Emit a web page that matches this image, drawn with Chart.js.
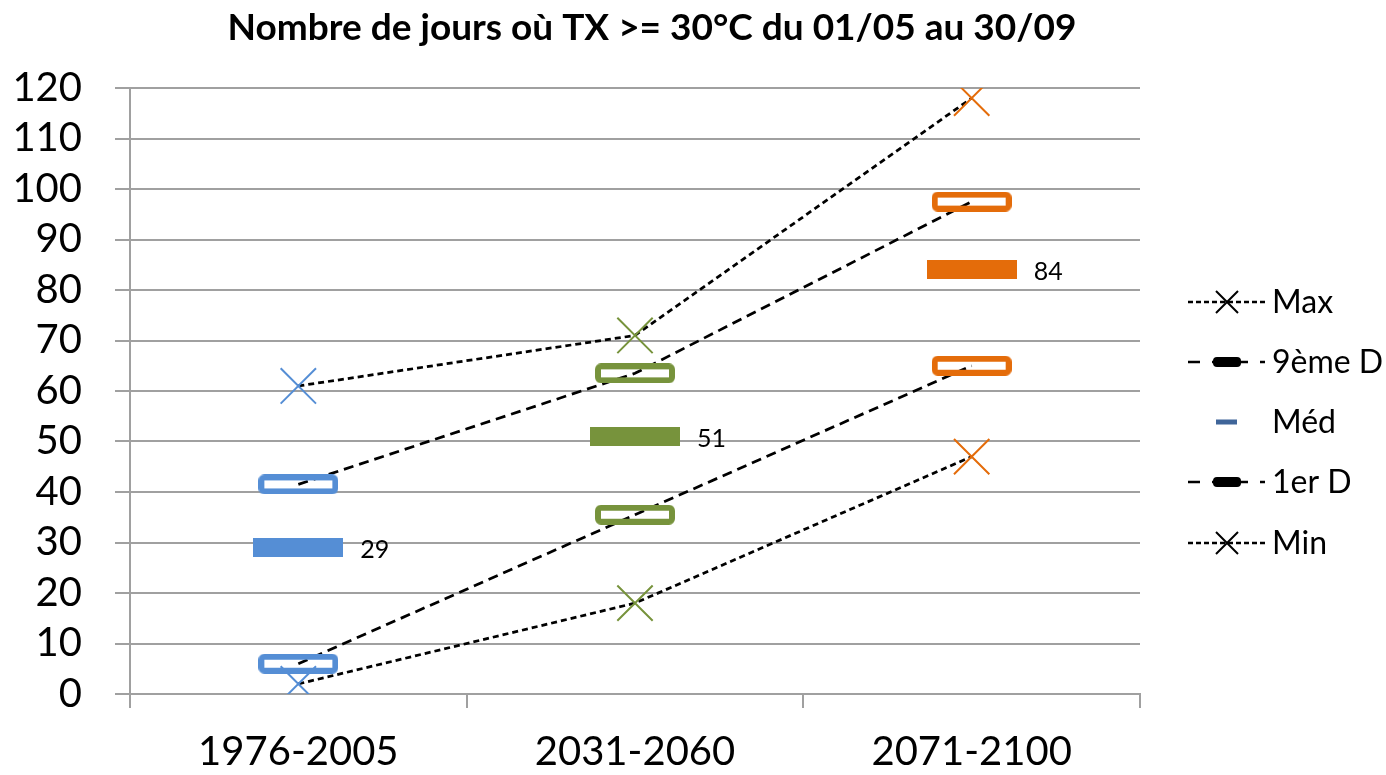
<!DOCTYPE html>
<html lang="fr">
<head>
<meta charset="utf-8">
<script src="https://cdn.jsdelivr.net/npm/chart.js@4.4.1/dist/chart.umd.min.js"></script>
<style>
  html, body { margin: 0; padding: 0; background: #fff; }
  #wrap { width: 1386px; height: 775px; }
</style>
</head>
<body>
<div id="wrap"><canvas id="graphique" width="1386" height="775"></canvas></div>
<script>
const TITRE = "Nombre de jours où TX >= 30°C du 01/05 au 30/09";
const PERIODES = ["1976-2005", "2031-2060", "2071-2100"];
const MAX = [61, 71, 118];
const D9 = [41.5, 63.5, 97.5];
const MED = [29, 51, 84];
const D1 = [6, 35.5, 65];
const MIN = [2, 18, 47];
const Y_MIN = 0;
const Y_MAX = 120;
const Y_PAS = 10;

const COULEURS = ["#558ED5", "#77933C", "#E46C0A"];
const GRIS = "#A0A0A0";
const POLICE = "Lato, 'Open Sans', sans-serif";

// petites images pour les marqueurs (boîtes creuses et barres pleines)
function boite(couleur, plein) {
  const c = document.createElement("canvas");
  const g = c.getContext("2d");
  if (plein) {
    c.width = 90; c.height = 19;
    g.fillStyle = couleur;
    g.fillRect(0, 0, 90, 19);
  } else {
    c.width = 80; c.height = 20;
    g.strokeStyle = couleur;
    g.lineWidth = 6;
    g.beginPath();
    g.roundRect(3, 3, 74, 14, 3);
    g.stroke();
  }
  return c;
}

const boitesCreuses = COULEURS.map(c => boite(c, false));
const barresMed = COULEURS.map(c => boite(c, true));

// titre, étiquettes de la médiane et légende
const decor = {
  id: "decor",
  afterDraw(chart) {
    const ctx = chart.ctx;
    ctx.save();
    ctx.fillStyle = "#000";
    ctx.font = "bold 37px " + POLICE;
    ctx.textAlign = "center";
    ctx.textBaseline = "middle";
    ctx.fillText(TITRE, 652, 28);

    // étiquettes Méd
    const metaMed = chart.getDatasetMeta(2);
    ctx.font = "25px " + POLICE;
    ctx.textAlign = "left";
    metaMed.data.forEach((p, i) => {
      ctx.fillText(String(MED[i]), p.x + 62, p.y + 2);
    });

    // légende
    const x0 = 1188, x1 = 1265, xm = 1227, xt = 1272;
    const lignesY = [302, 362, 422, 482, 543];
    chart.data.datasets.forEach((ds, i) => {
      const y = lignesY[i];
      ctx.strokeStyle = "#000";
      ctx.fillStyle = "#000";
      if (ds.showLine !== false) {
        ctx.lineWidth = 2.5;
        ctx.setLineDash(ds.borderDash[0] === 6 ? [5, 3] : [12, 12]);
        ctx.beginPath();
        ctx.moveTo(x0, y);
        ctx.lineTo(x1, y);
        ctx.stroke();
        ctx.setLineDash([]);
      }
      if (ds.pointStyle === "crossRot") {
        ctx.lineWidth = 2;
        ctx.beginPath();
        ctx.moveTo(xm - 11, y - 11); ctx.lineTo(xm + 11, y + 11);
        ctx.moveTo(xm + 11, y - 11); ctx.lineTo(xm - 11, y + 11);
        ctx.stroke();
      } else if (ds.showLine !== false) {
        ctx.beginPath();
        ctx.roundRect(xm - 14, y - 5, 28, 10, 4);
        ctx.fill();
      } else {
        ctx.fillStyle = "#3F6599";
        ctx.fillRect(1216, y - 2.5, 21, 5);
      }
      ctx.fillStyle = "#000";
      ctx.font = "32px " + POLICE;
      ctx.textAlign = "left";
      ctx.textBaseline = "middle";
      ctx.fillText(ds.label, xt, y + 1);
    });
    ctx.restore();
  }
};

function serieX(label, data) {
  return {
    label, data,
    borderColor: "#000",
    borderWidth: 2.75,
    borderDash: [6, 4],
    pointStyle: "crossRot",
    pointRadius: 25,
    pointBorderWidth: 2,
    pointBorderColor: COULEURS,
    pointBackgroundColor: "transparent",
    tension: 0
  };
}

function serieBoite(label, data) {
  return {
    label, data,
    borderColor: "#000",
    borderWidth: 2.75,
    borderDash: [10, 6],
    pointStyle: boitesCreuses,
    pointRadius: 10,
    tension: 0
  };
}

new Chart(document.getElementById("graphique"), {
  type: "line",
  data: {
    labels: PERIODES,
    datasets: [
      serieX("Max", MAX),
      serieBoite("9ème D", D9),
      {
        label: "Méd",
        data: MED,
        showLine: false,
        pointStyle: barresMed,
        pointRadius: 10
      },
      serieBoite("1er D", D1),
      serieX("Min", MIN)
    ]
  },
  options: {
    responsive: false,
    animation: false,
    devicePixelRatio: 1,
    layout: { padding: { top: 88, right: 246, left: 0, bottom: 0 } },
    plugins: {
      legend: { display: false },
      title: { display: false },
      tooltip: { enabled: false }
    },
    scales: {
      x: {
        offset: true,
        afterFit: s => { s.height = 81; },
        grid: {
          offset: true,
          drawOnChartArea: false,
          drawTicks: true,
          tickLength: 14,
          color: GRIS,
          lineWidth: 2
        },
        border: { display: true, color: GRIS, width: 2 },
        ticks: {
          color: "#000",
          font: { family: POLICE, size: 40 },
          padding: 20,
          maxRotation: 0
        }
      },
      y: {
        min: Y_MIN,
        max: Y_MAX,
        afterFit: s => { s.width = 130; },
        grid: {
          color: GRIS,
          lineWidth: 2,
          drawTicks: true,
          tickLength: 15
        },
        border: { display: true, color: GRIS, width: 2 },
        ticks: {
          stepSize: Y_PAS,
          autoSkip: false,
          color: "#000",
          font: { family: POLICE, size: 40 },
          padding: 33
        }
      }
    }
  },
  plugins: [decor]
});
</script>
</body>
</html>
